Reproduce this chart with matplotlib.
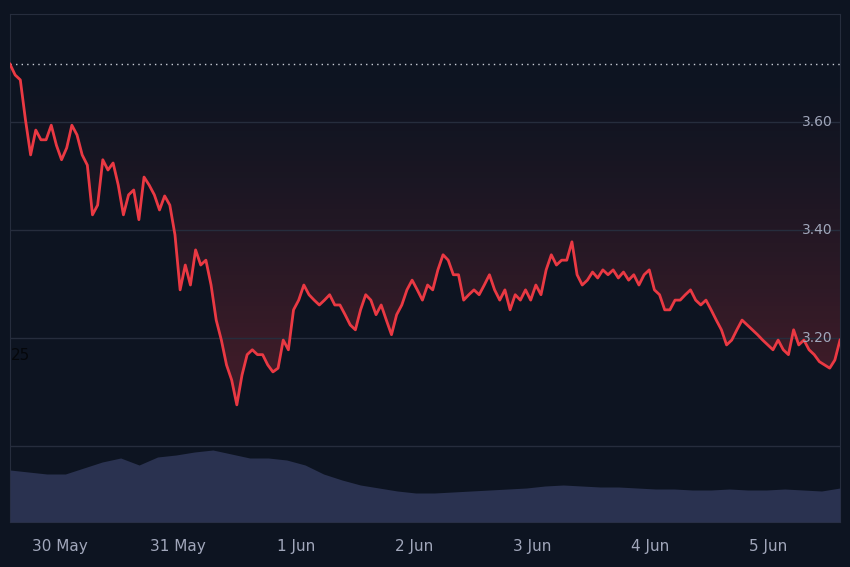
import numpy as np
import matplotlib.pyplot as plt

# price samples, evenly spaced in time (days after 30 May 00:00)
t_start, t_end = -0.42, 6.61
prices = [
    3.707, 3.687, 3.678, 3.604, 3.539, 3.585, 3.567, 3.567, 3.594, 3.557,
    3.530, 3.552, 3.594, 3.576, 3.539, 3.520, 3.428, 3.446, 3.530, 3.511,
    3.524, 3.483, 3.428, 3.465, 3.474, 3.419, 3.498, 3.483, 3.465, 3.437,
    3.463, 3.446, 3.391, 3.289, 3.335, 3.298, 3.363, 3.335, 3.344, 3.298,
    3.233, 3.196, 3.150, 3.122, 3.076, 3.131, 3.169, 3.178, 3.169, 3.169,
    3.150, 3.137, 3.144, 3.196, 3.178, 3.252, 3.270, 3.298, 3.280, 3.270,
    3.261, 3.270, 3.280, 3.261, 3.261, 3.243, 3.224, 3.215, 3.252, 3.280,
    3.270, 3.243, 3.261, 3.233, 3.206, 3.243, 3.261, 3.289, 3.307, 3.289,
    3.270, 3.298, 3.289, 3.326, 3.354, 3.344, 3.317, 3.317, 3.270, 3.280,
    3.289, 3.280, 3.298, 3.317, 3.289, 3.270, 3.289, 3.252, 3.280, 3.270,
    3.289, 3.270, 3.298, 3.280, 3.326, 3.354, 3.335, 3.344, 3.344, 3.378,
    3.317, 3.298, 3.307, 3.322, 3.311, 3.326, 3.317, 3.326, 3.311, 3.322,
    3.307, 3.317, 3.298, 3.317, 3.326, 3.289, 3.280, 3.252, 3.252, 3.270,
    3.270, 3.280, 3.289, 3.270, 3.261, 3.270, 3.252, 3.233, 3.215, 3.187,
    3.196, 3.215, 3.233, 3.224, 3.215, 3.206, 3.196, 3.187, 3.178, 3.196,
    3.178, 3.169, 3.215, 3.187, 3.196, 3.178, 3.169, 3.156, 3.150, 3.144,
    3.159, 3.196,
]
volumes = [
    52, 50, 48, 48, 54, 60, 64, 57, 65, 67, 70, 72, 68, 64, 64, 62,
    57, 48, 42, 37, 34, 31, 29, 29, 30, 31, 32, 33, 34, 36, 37, 36,
    35, 35, 34, 33, 33, 32, 32, 33, 32, 32, 33, 32, 31, 34,
]
open_price = 3.707
day_labels = ['30 May', '31 May', '1 Jun', '2 Jun', '3 Jun', '4 Jun', '5 Jun']
price_ticks = [3.0, 3.2, 3.4, 3.6]

bg = '#0d1421'
grid = '#262d3d'
red = '#ea3943'
txt = '#a1a7bb'
ymin, ymax = 2.859, 3.80

t = np.linspace(t_start, t_end, len(prices))
tv = np.linspace(t_start, t_end, len(volumes))

fig = plt.figure(figsize=(8.5, 5.67), dpi=100, facecolor=bg)
ax = fig.add_axes([10/850, 45/567, 830/850, 508/567])
ax.set_facecolor(bg)

# baseline style: red gradient between the open price and the line,
# strongest far below the baseline; masked below the line with background
yy = np.linspace(ymin, open_price, 256)
alpha = np.clip((open_price - yy) / 0.55, 0, 1) ** 1.3
img = np.zeros((256, 1, 4))
img[..., 0], img[..., 1], img[..., 2] = 0.92, 0.22, 0.26
img[..., 3] = 0.22 * alpha.reshape(-1, 1)
ax.imshow(img, extent=[t_start, t_end, ymin, open_price], origin='lower',
          aspect='auto', zorder=1)
ax.fill_between(t, ymin, prices, color=bg, lw=0, zorder=2)

for p in price_ticks:
    ax.axhline(p, color=grid, lw=1, zorder=3)
    if p > 3.0:
        ax.text(t_end - 0.06, p, f'{p:.2f}', color=txt, fontsize=10,
                ha='right', va='center', zorder=5)
ax.axhline(open_price, color='#c8ccd6', lw=1, ls=(0, (1, 3)), zorder=3)

ax.plot(t, prices, color=red, lw=2, zorder=4)
ax.text(t_start + 0.01, 3.16, '25', color='#05070b', fontsize=11, zorder=5)

ax.set_xlim(t_start, t_end)
ax.set_ylim(ymin, ymax)
ax.set_yticks([])
ax.set_xticks(range(len(day_labels)))
ax.set_xticklabels(day_labels, color=txt, fontsize=11)
ax.tick_params(axis='x', length=0, pad=12)
for s in ax.spines.values():
    s.set_color(grid)

# volume panel
vax = fig.add_axes([10/850, 45/567, 830/850, 77/567])
vax.patch.set_alpha(0)
vax.fill_between(tv, volumes, 0, color='#2a3250', lw=0)
vax.set_xlim(t_start, t_end)
vax.set_ylim(0, 77)
vax.axis('off')

fig.savefig('out.png', dpi=100, facecolor=bg)
